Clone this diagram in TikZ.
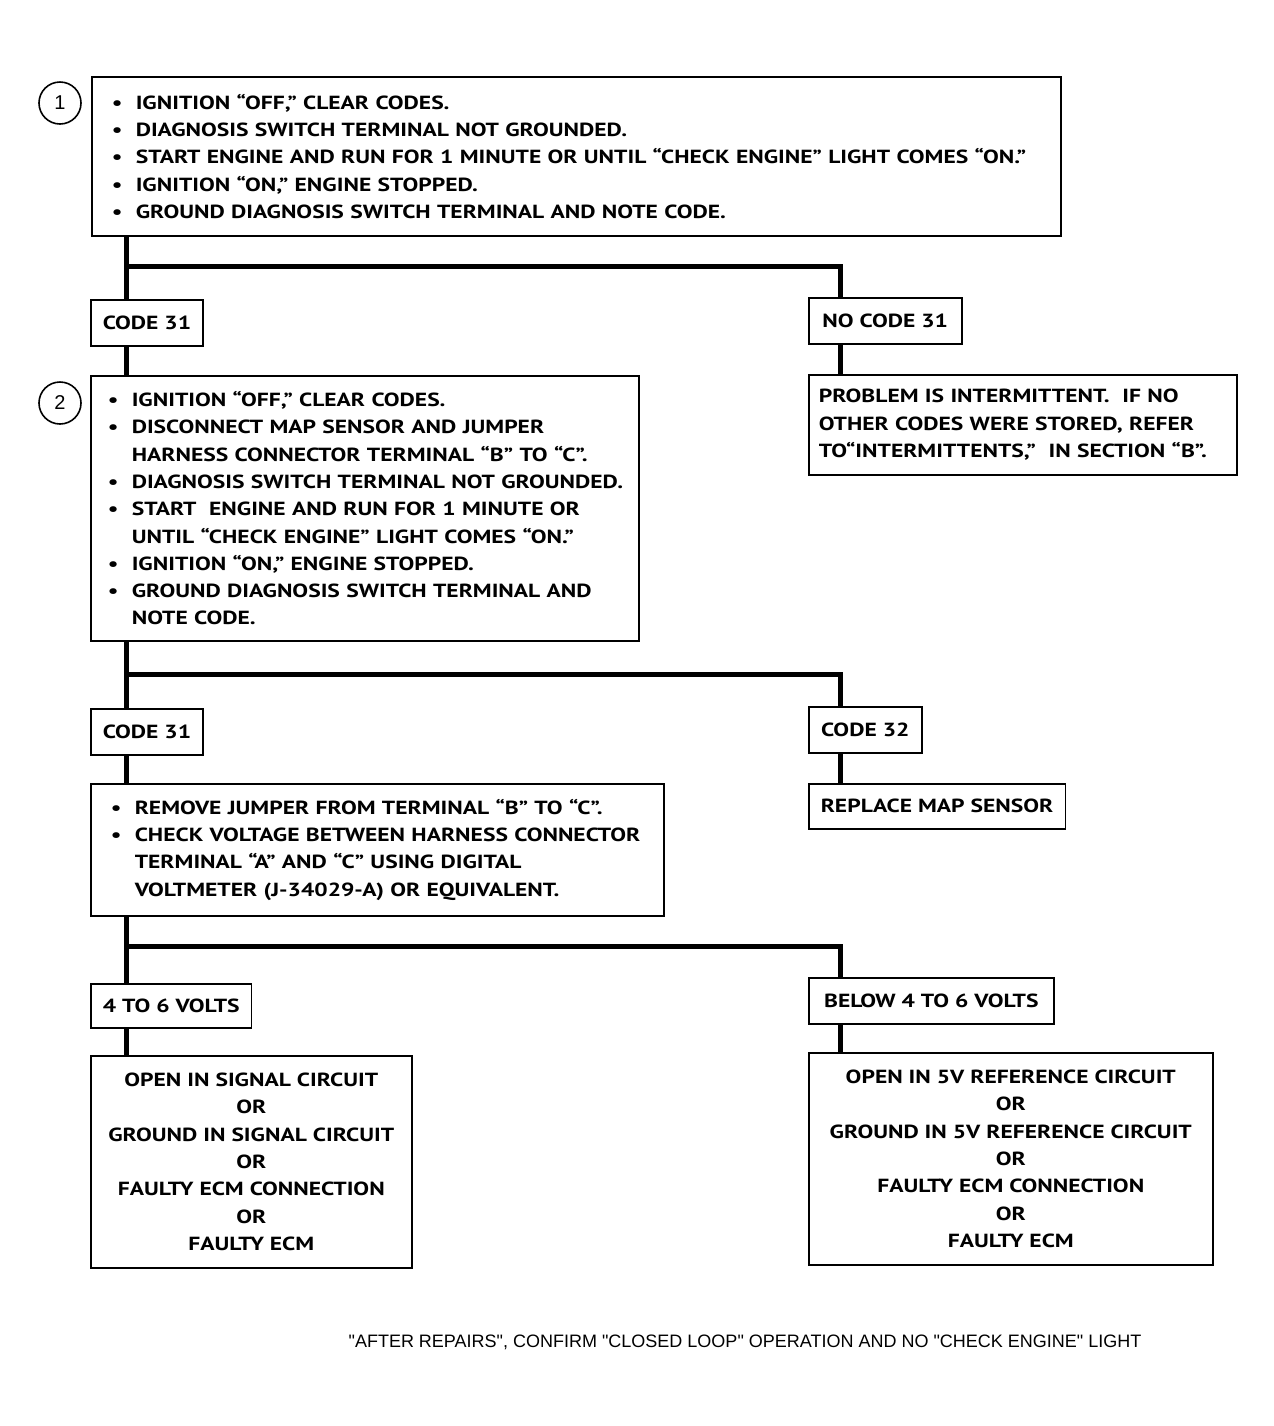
\documentclass[tikz,border=0pt]{standalone}
\usepackage{fontspec}
\setmainfont{PT Sans}[FakeStretch=1.24]
\newfontfamily\footfont{Liberation Sans}
\usetikzlibrary{positioning}
\newcommand{\bul}{\makebox[12pt][l]{\textbullet}}
\newcommand{\ind}{\hspace*{12pt}}
\newcommand{\pad}{\hspace*{4pt}}

\begin{document}
\begin{tikzpicture}[x=0.5pt,y=-0.5pt,
    box/.style={draw, line width=0.8pt, anchor=north west, inner sep=0pt, font=\fontsize{9.5}{13.65}\selectfont\bfseries},
    list/.style={box, align=left, inner xsep=10pt},
    result/.style={box, align=center},
    tag/.style={box, inner xsep=6pt, minimum height=23pt},
    num/.style={draw, circle, line width=0.8pt, minimum size=21pt, inner sep=0pt, font=\footfont\fontsize{10}{10}\selectfont},
    trunk/.style={line width=2.5pt}]

    \useasboundingbox (0,0) rectangle (1274,1426);

    \node[num] (n1) at (60,103) {1};
    \node[list, text width=464.5pt, minimum height=79.5pt] (box1) at (91,76) {%
        \bul IGNITION “OFF,” CLEAR CODES.\\
        \bul DIAGNOSIS SWITCH TERMINAL NOT GROUNDED.\\
        \bul START ENGINE AND RUN FOR 1 MINUTE OR UNTIL “CHECK ENGINE” LIGHT COMES “ON.”\\
        \bul IGNITION “ON,” ENGINE STOPPED.\\
        \bul GROUND DIAGNOSIS SWITCH TERMINAL AND NOTE CODE.};

    \coordinate (j1) at (126,266);
    \coordinate (k1) at (840,266);

    \node[tag, minimum width=55.5pt] (c31a) at (90,299) {CODE 31};
    \node[tag, minimum width=76.5pt] (nc31) at (808,297) {NO CODE 31};
    \node[box, align=left, inner xsep=5pt, text width=204pt, minimum height=50pt] (prob) at (808,374) {%
        PROBLEM IS INTERMITTENT.\ \ IF NO\\
        OTHER CODES WERE STORED, REFER\\
        TO“INTERMITTENTS,”\ \ IN SECTION “B”.};

    \draw[trunk] (j1 |- box1.south) -- (j1 |- c31a.north);
    \draw[trunk] (j1) -- (k1) -- (k1 |- nc31.north);
    \draw[trunk] (k1 |- nc31.south) -- (k1 |- prob.north);

    \node[num] (n2) at (60,403) {2};
    \node[list, inner xsep=4.5pt, text width=265pt, minimum height=132.5pt] (box2) at (90,375) {%
        \pad\bul IGNITION “OFF,” CLEAR CODES.\\
        \pad\bul DISCONNECT MAP SENSOR AND JUMPER\\
        \pad\ind HARNESS CONNECTOR TERMINAL “B” TO “C”.\\
        \pad\bul DIAGNOSIS SWITCH TERMINAL NOT GROUNDED.\\
        \pad\bul START\ \ ENGINE AND RUN FOR 1 MINUTE OR\\
        \pad\ind UNTIL “CHECK ENGINE” LIGHT COMES “ON.”\\
        \pad\bul IGNITION “ON,” ENGINE STOPPED.\\
        \pad\bul GROUND DIAGNOSIS SWITCH TERMINAL AND\\
        \pad\ind NOTE CODE.};

    \draw[trunk] (j1 |- c31a.south) -- (j1 |- box2.north);

    \coordinate (j2) at (126,674);
    \coordinate (k2) at (840,674);

    \node[tag, minimum width=55pt] (c31b) at (90,708) {CODE 31};
    \node[tag, minimum width=56.5pt] (c32) at (808,706) {CODE 32};
    \node[box, inner xsep=6pt, minimum width=128pt, minimum height=22.5pt] (repl) at (808,783) {REPLACE MAP SENSOR};

    \draw[trunk] (j2 |- box2.south) -- (j2 |- c31b.north);
    \draw[trunk] (j2) -- (k2) -- (k2 |- c32.north);
    \draw[trunk] (k2 |- c32.south) -- (k2 |- repl.north);

    \node[list, text width=266.5pt, minimum height=66pt] (box3) at (90,783) {%
        \bul REMOVE JUMPER FROM TERMINAL “B” TO “C”.\\
        \bul CHECK VOLTAGE BETWEEN HARNESS CONNECTOR\\
        \ind TERMINAL “A” AND “C” USING DIGITAL\\
        \ind VOLTMETER (J-34029-A) OR EQUIVALENT.};

    \draw[trunk] (j2 |- c31b.south) -- (j2 |- box3.north);

    \coordinate (j3) at (126,946);
    \coordinate (k3) at (840,946);

    \node[tag, minimum width=79.5pt, minimum height=22pt] (low) at (90,983) {4 TO 6 VOLTS};
    \node[tag, minimum width=122.5pt] (below) at (808,977) {BELOW 4 TO 6 VOLTS};

    \draw[trunk] (j3 |- box3.south) -- (j3 |- low.north);
    \draw[trunk] (j3) -- (k3) -- (k3 |- below.north);

    \node[result, minimum width=160.5pt, minimum height=106pt] (res1) at (90,1055) {%
        OPEN IN SIGNAL CIRCUIT\\
        OR\\
        GROUND IN SIGNAL CIRCUIT\\
        OR\\
        FAULTY ECM CONNECTION\\
        OR\\
        FAULTY ECM};
    \node[result, minimum width=202pt, minimum height=106pt] (res2) at (808,1052) {%
        OPEN IN 5V REFERENCE CIRCUIT\\
        OR\\
        GROUND IN 5V REFERENCE CIRCUIT\\
        OR\\
        FAULTY ECM CONNECTION\\
        OR\\
        FAULTY ECM};

    \draw[trunk] (j3 |- low.south) -- (j3 |- res1.north);
    \draw[trunk] (k3 |- below.south) -- (k3 |- res2.north);

    \node[font=\footfont\fontsize{9}{9}\selectfont] (note) at (745,1342) {"AFTER REPAIRS", CONFIRM "CLOSED LOOP" OPERATION AND NO "CHECK ENGINE" LIGHT};

\end{tikzpicture}
\end{document}
